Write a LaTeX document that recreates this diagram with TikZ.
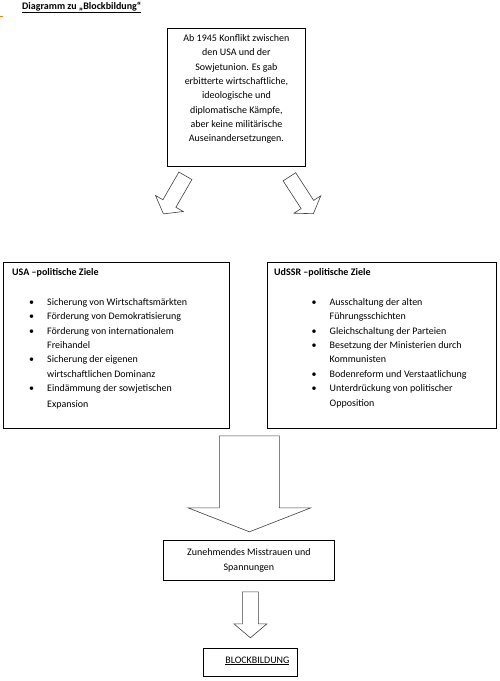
\documentclass[tikz,border=0pt]{standalone}
\usepackage{fontspec}
\setmainfont{Carlito}
\usetikzlibrary{positioning, calc}

% block arrow: start, rotation, length, shaft half width, head half width, head length
\newcommand{\blockpfeil}[6]{%
  \draw[pfeil, shift={(#1)}, rotate=#2]
    (-#4,0) -- (-#4,#3-#6) -- (-#5,#3-#6) -- (0,#3)
    -- (#5,#3-#6) -- (#4,#3-#6) -- (#4,0) -- cycle;}

\begin{document}
\begin{tikzpicture}[
  x=1pt, y=-1pt,
  rahmen/.style={rectangle, draw=black, line width=0.8pt, fill=white,
    inner sep=0pt, anchor=north west},
  fliess/.style={font=\fontsize{10}{14.3}\selectfont, align=center, inner sep=0pt},
  kopf/.style={font=\fontsize{10}{14.3}\selectfont\bfseries, inner sep=0pt,
    anchor=base west},
  liste/.style={font=\fontsize{10}{14.3}\selectfont, inner sep=0pt,
    anchor=base west},
  pfeil/.style={draw=black!75, line width=0.6pt, line join=miter, fill=white},
]
\useasboundingbox (0,0) rectangle (500,681);
% ====== TITLE ======
\draw[orange, line width=1pt] (0,16) -- (3,16);
\node[fliess, anchor=base west] (titel) at (22,9.5)
  {\underline{\textbf{Diagramm zu „Blockbildung“}}};
%
% ====== CONFLICT ======
\node[rahmen, minimum width=138, minimum height=138] (konflikt) at (167,28) {};
\node[fliess, below=6.5pt of konflikt.north] (konflikt_text)
  {Ab 1945 Konflikt zwischen\\den USA und der\\Sowjetunion. Es gab\\erbitterte wirtschaftliche,\\ideologische und\\diplomatische Kämpfe,\\aber keine militärische\\Auseinandersetzungen.};
\blockpfeil{$(konflikt.south)+(-51,9)$}{-30}{44}{7.5}{16}{12}
\blockpfeil{$(konflikt.south)+(53,10)$}{33}{44}{7.5}{16}{11}
%
% ====== USA ======
\node[rahmen, minimum width=226, minimum height=166] (usa) at (3,262) {};
\node[kopf] (usa_kopf) at ($(usa.north west)+(9,13.5)$) {USA –politische Ziele};
\node[liste] (usa_liste) at ($(usa.north west)+(26,43.5)$)
  {\begin{tabular}[t]{@{}p{18pt}@{}l@{}}
   \textbullet & Sicherung von Wirtschaftsmärkten\\
   \textbullet & Förderung von Demokratisierung\\
   \textbullet & Förderung von internationalem\\
               & Freihandel\\
   \textbullet & Sicherung der eigenen\\
               & wirtschaftlichen Dominanz\\
   \textbullet & Eindämmung der sowjetischen\\[1.5pt]
               & Expansion
   \end{tabular}};
%
% ====== UdSSR ======
\node[rahmen, minimum width=229, minimum height=166] (udssr) at (267,262) {};
\node[kopf] (udssr_kopf) at ($(udssr.north west)+(7,13.5)$) {UdSSR –politische Ziele};
\node[liste] (udssr_liste) at ($(udssr.north west)+(44.5,43.5)$)
  {\begin{tabular}[t]{@{}p{18pt}@{}l@{}}
   \textbullet & Ausschaltung der alten\\
               & Führungsschichten\\
   \textbullet & Gleichschaltung der Parteien\\
   \textbullet & Besetzung der Ministerien durch\\
               & Kommunisten\\
   \textbullet & Bodenreform und Verstaatlichung\\
   \textbullet & Unterdrückung von politischer\\[1pt]
               & Opposition
   \end{tabular}};
%
% ====== RESULT ======
\blockpfeil{$(usa.south east)!0.5!(udssr.south west)+(1,7)$}{0}{96}{30}{61.5}{24}
\node[rahmen, fliess, minimum width=171, minimum height=40] (misstrauen) at (163,540)
  {Zunehmendes Misstrauen und\\Spannungen};
\blockpfeil{$(misstrauen.south)+(1.5,11)$}{0}{46}{8}{16.5}{14}
\node[rahmen, minimum width=94, minimum height=28] (block) at (203,648) {};
\node[fliess] (block_text) at ($(block.center)+(7,-1.5)$) {\underline{BLOCKBILDUNG}};
\end{tikzpicture}
\end{document}
